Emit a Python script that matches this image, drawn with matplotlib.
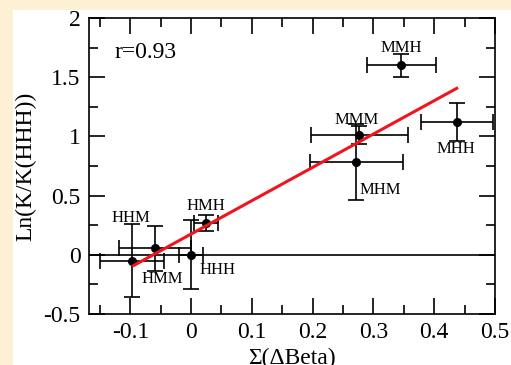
import matplotlib.pyplot as plt
from matplotlib.patches import Rectangle
from matplotlib.ticker import MultipleLocator, FormatStrFormatter

plt.rcParams['font.family'] = ['Liberation Serif', 'DejaVu Serif']
plt.rcParams['axes.unicode_minus'] = False

# data
names = ['HHM', 'HMM', 'HHH', 'HMH', 'MMH', 'MMM', 'MHM', 'MHH']
sum_dbeta = [-0.097, -0.059, 0.0, 0.025, 0.346, 0.277, 0.272, 0.4375]
ln_k = [-0.05, 0.055, 0.0, 0.27, 1.60, 1.01, 0.785, 1.125]
x_err = [0.053, 0.059, 0.02, 0.02, 0.057, 0.08, 0.076, 0.06]
y_err = [0.31, 0.19, 0.29, 0.07, 0.10, 0.077, 0.32, 0.16]

fit_x = [-0.095, 0.437]
fit_y = [-0.092, 1.406]
r_value = 0.93

# label offsets in points (layout only)
label_off = {
    'HHM': (-1, 31), 'HMM': (5, -22), 'HHH': (19, -11), 'HMH': (0, 12),
    'MMH': (0, 12.5), 'MMM': (-2, 11), 'MHM': (17, -20), 'MHH': (-0.5, -20),
}

fig = plt.figure(figsize=(5.11, 3.65), dpi=100)
fig.patch.set_facecolor('#fdf1d3')
fig.patches.append(Rectangle((13 / 511, 0), 1, 1 - 10 / 365, transform=fig.transFigure,
                             facecolor='white', edgecolor='none', zorder=-5))

ax = fig.add_axes([89 / 511, 1 - 314 / 365, 406 / 511, 296 / 365])

ax.axhline(0, color='black', lw=1.2, zorder=1)
ax.errorbar(sum_dbeta, ln_k, xerr=x_err, yerr=y_err, fmt='o', color='black',
            ms=5.5, elinewidth=1.2, capsize=5.5, capthick=1.2, zorder=3)
ax.plot(fit_x, fit_y, color='#f0141e', lw=2.2, zorder=4)

for n, x, y in zip(names, sum_dbeta, ln_k):
    ax.annotate(n, (x, y), xytext=label_off[n], textcoords='offset points',
                ha='center', va='center', fontsize=12, zorder=5)

ax.text(0.063, 0.885, 'r=%.2f' % r_value, transform=ax.transAxes, fontsize=17,
        ha='left', va='center')

ax.set_xlim(-0.168, 0.5)
ax.set_ylim(-0.5, 2)
ax.xaxis.set_major_locator(MultipleLocator(0.1))
ax.xaxis.set_minor_locator(MultipleLocator(0.05))
ax.yaxis.set_major_locator(MultipleLocator(0.5))
ax.yaxis.set_minor_locator(MultipleLocator(0.25))
ax.xaxis.set_major_formatter(FormatStrFormatter('%g'))
ax.yaxis.set_major_formatter(FormatStrFormatter('%g'))
ax.tick_params(which='both', direction='in', top=True, right=True, width=1.2)
ax.tick_params(which='major', length=11.5, labelsize=17, pad=6)
ax.tick_params(which='minor', length=6.5)
for s in ax.spines.values():
    s.set_linewidth(1.2)

ax.set_xlabel('Σ(ΔBeta)', fontsize=17)
ax.set_ylabel('Ln(K/K(HHH))', fontsize=17)
ax.xaxis.set_label_coords(0.5, -0.115)
ax.yaxis.set_label_coords(-0.13, 0.5)

fig.savefig('out.png', dpi=100, facecolor=fig.get_facecolor())
